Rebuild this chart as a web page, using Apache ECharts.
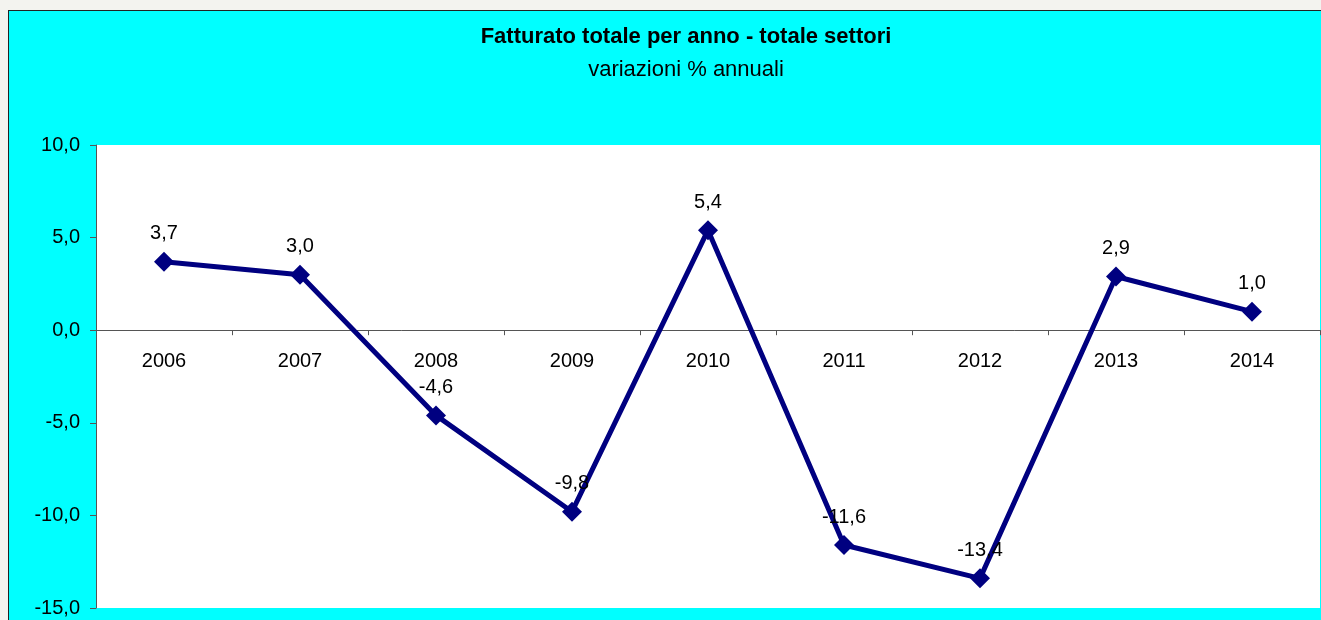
<!DOCTYPE html>
<html>
<head>
<meta charset="utf-8">
<script src="https://cdn.jsdelivr.net/npm/echarts@6/dist/echarts.min.js"></script>
<style>
	html, body {
		margin: 0;
		padding: 0;
		background: #f3f3ef;
		overflow: hidden;
	}
	.frame {
		position: absolute;
		left: 8px;
		top: 10px;
		width: 1400px;
		height: 700px;
		background: #00ffff;
		border: 1px solid #222;
	}
	.echarts {
		position: absolute;
		left: 0;
		top: 0;
		width: 1321px;
		height: 620px;
	}
</style>
</head>
<body>
<div class="frame"></div>
<div class="echarts" id="linechart1"></div>
<script>
// anni
const years = ["2006", "2007", "2008", "2009", "2010", "2011", "2012", "2013", "2014"];
// variazioni % annuali
const variazioni = [3.7, 3.0, -4.6, -9.8, 5.4, -11.6, -13.4, 2.9, 1.0];
// tacche asse y
const yMin = -15;
const yMax = 10;
const yStep = 5;

const fmt = (v) => Number(v).toFixed(1).replace(".", ",");

// area del grafico
const gridTop = 145;
const gridHeight = 463;
// l'asse x sta sullo zero: lo spostiamo in su dal fondo
const zeroOffset = -gridHeight * (0 - yMin) / (yMax - yMin);

const chart = echarts.init(document.getElementById("linechart1"));

const option = {
	backgroundColor: "transparent",
	textStyle: {
		fontFamily: "Liberation Sans, Arial, sans-serif"
	},
	title: {
		text: "Fatturato totale per anno - totale settori",
		subtext: "variazioni % annuali",
		left: 681,
		textAlign: "center",
		top: 21,
		itemGap: 11,
		textStyle: {
			fontSize: 22,
			fontWeight: "bold",
			color: "#000"
		},
		subtextStyle: {
			fontSize: 22,
			color: "#000"
		}
	},
	grid: {
		left: 96,
		top: gridTop,
		width: 1224,
		height: gridHeight,
		outerBoundsMode: "none",
		containLabel: false,
		show: true,
		backgroundColor: "#fff",
		borderWidth: 0
	},
	xAxis: {
		type: "category",
		data: years,
		boundaryGap: true,
		position: "bottom",
		offset: zeroOffset,
		axisLine: {
			onZero: false,
			lineStyle: { color: "#555", width: 1 }
		},
		axisTick: {
			show: true,
			length: 5,
			lineStyle: { color: "#555" }
		},
		axisLabel: {
			color: "#000",
			fontSize: 20,
			margin: 21
		}
	},
	yAxis: {
		type: "value",
		min: yMin,
		max: yMax,
		interval: yStep,
		axisLine: {
			show: true,
			lineStyle: { color: "#555", width: 1 }
		},
		axisTick: {
			show: true,
			length: 6,
			lineStyle: { color: "#555" }
		},
		splitLine: { show: false },
		axisLabel: {
			color: "#000",
			fontSize: 20,
			margin: 16,
			formatter: fmt
		}
	},
	series: [
		{
			type: "line",
			data: variazioni,
			symbol: "diamond",
			symbolSize: 20,
			lineStyle: { color: "#000080", width: 5 },
			itemStyle: { color: "#000080" },
			label: {
				show: true,
				position: "top",
				distance: 8,
				color: "#000",
				fontSize: 20,
				formatter: (p) => fmt(p.value)
			}
		}
	]
};

chart.setOption(option);
</script>
</body>
</html>
